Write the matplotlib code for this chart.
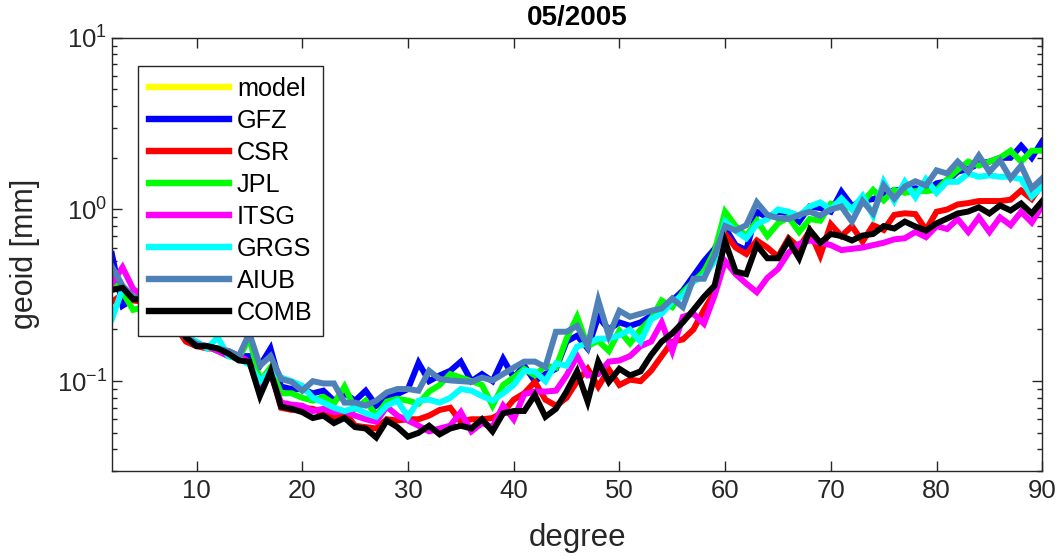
import numpy as np
import matplotlib
matplotlib.use("Agg")
from matplotlib import pyplot as plt
from matplotlib.ticker import LogLocator

plt.rcParams["font.family"] = ["Liberation Sans", "DejaVu Sans"]
plt.rcParams["mathtext.default"] = "regular"

degree = np.arange(2, 91)

gfz = [0.55, 0.275, 0.30, 0.29, 0.27, 0.24, 0.21, 0.172, 0.16, 0.16,
       0.15, 0.15, 0.14, 0.14, 0.123, 0.155, 0.093, 0.09, 0.09,
       0.085, 0.088, 0.077, 0.085, 0.077, 0.088, 0.072, 0.080, 0.084, 0.090,
       0.128, 0.10, 0.108, 0.115, 0.13, 0.10, 0.11, 0.10, 0.135, 0.105,
       0.123, 0.10, 0.11, 0.118, 0.17, 0.184, 0.155, 0.237, 0.20, 0.22,
       0.21, 0.22, 0.24, 0.254, 0.295, 0.337, 0.41, 0.50, 0.59, 0.78,
       0.62, 0.58, 0.97, 0.90, 0.97, 0.95, 0.85, 1.04, 1.02, 0.97,
       1.27, 1.05, 1.12, 1.15, 1.22, 1.30, 1.30, 1.33, 1.28, 1.42,
       1.46, 1.66, 1.72, 1.85, 1.9, 2.0, 2.0, 2.35, 2.0, 2.5]

csr = [0.29, 0.32, 0.295, 0.29, 0.26, 0.24, 0.21, 0.17, 0.16, 0.155,
       0.155, 0.145, 0.135, 0.13, 0.085, 0.115, 0.070, 0.068, 0.070,
       0.069, 0.065, 0.062, 0.066, 0.055, 0.054, 0.053, 0.060, 0.059, 0.060,
       0.060, 0.063, 0.068, 0.070, 0.058, 0.060, 0.060, 0.061, 0.066, 0.078,
       0.085, 0.099, 0.078, 0.072, 0.080, 0.10, 0.118, 0.093, 0.117, 0.095,
       0.102, 0.10, 0.115, 0.14, 0.17, 0.175, 0.20, 0.26, 0.33, 0.72,
       0.60, 0.55, 0.66, 0.60, 0.53, 0.68, 0.60, 0.75, 0.54, 0.82,
       0.70, 0.80, 0.65, 0.81, 0.76, 0.93, 0.95, 0.94, 0.76, 0.97,
       1.0, 1.07, 1.09, 1.12, 1.12, 1.12, 1.14, 1.29, 1.15, 1.41]

jpl = [0.38, 0.33, 0.26, 0.27, 0.26, 0.24, 0.22, 0.19, 0.165, 0.16,
       0.15, 0.14, 0.135, 0.18, 0.10, 0.12, 0.085, 0.085, 0.080,
       0.077, 0.081, 0.074, 0.093, 0.069, 0.077, 0.063, 0.076, 0.079, 0.077,
       0.074, 0.087, 0.095, 0.11, 0.105, 0.10, 0.095, 0.072, 0.095, 0.105,
       0.118, 0.108, 0.123, 0.12, 0.177, 0.237, 0.16, 0.172, 0.15, 0.197,
       0.166, 0.20, 0.23, 0.295, 0.27, 0.33, 0.38, 0.435, 0.57, 0.97,
       0.80, 0.70, 0.86, 0.70, 0.83, 0.90, 0.74, 0.88, 0.86, 1.08,
       1.05, 1.02, 1.1, 1.30, 1.13, 1.30, 1.25, 1.28, 1.28, 1.30,
       1.5, 1.7, 1.9, 1.8, 1.9, 2.0, 2.2, 1.9, 2.2, 2.2]

itsg = [0.37, 0.46, 0.345, 0.31, 0.28, 0.25, 0.22, 0.19, 0.165, 0.16,
        0.15, 0.14, 0.14, 0.13, 0.09, 0.11, 0.075, 0.073, 0.072,
        0.067, 0.069, 0.066, 0.067, 0.063, 0.060, 0.058, 0.071, 0.063, 0.059,
        0.055, 0.051, 0.053, 0.055, 0.066, 0.051, 0.057, 0.054, 0.072, 0.060,
        0.084, 0.087, 0.087, 0.088, 0.108, 0.14, 0.108, 0.11, 0.13, 0.132,
        0.14, 0.16, 0.17, 0.22, 0.15, 0.237, 0.247, 0.216, 0.315, 0.50,
        0.42, 0.37, 0.33, 0.40, 0.45, 0.56, 0.63, 0.66, 0.64, 0.62,
        0.58, 0.59, 0.60, 0.62, 0.64, 0.67, 0.68, 0.74, 0.69, 0.80,
        0.77, 0.88, 0.74, 0.90, 0.74, 0.90, 0.81, 0.97, 0.84, 1.05]

grgs = [0.23, 0.345, 0.31, 0.29, 0.27, 0.24, 0.21, 0.18, 0.17, 0.155,
        0.18, 0.14, 0.135, 0.125, 0.10, 0.115, 0.105, 0.10, 0.094,
        0.08, 0.075, 0.07, 0.067, 0.07, 0.065, 0.062, 0.072, 0.077, 0.062,
        0.077, 0.078, 0.075, 0.08, 0.09, 0.088, 0.082, 0.077, 0.085, 0.095,
        0.115, 0.114, 0.10, 0.127, 0.123, 0.159, 0.166, 0.177, 0.177, 0.185,
        0.20, 0.17, 0.23, 0.247, 0.29, 0.315, 0.38, 0.41, 0.50, 0.85,
        0.75, 0.68, 0.82, 0.88, 1.0, 0.97, 0.92, 1.04, 1.1, 1.0,
        1.16, 1.0, 1.2, 0.92, 1.45, 1.12, 1.45, 1.18, 1.5, 1.25,
        1.45, 1.45, 1.62, 1.55, 1.58, 1.55, 1.55, 1.5, 1.19, 1.36]

aiub = [0.465, 0.36, 0.31, 0.30, 0.27, 0.25, 0.22, 0.18, 0.165, 0.16,
        0.155, 0.15, 0.14, 0.19, 0.123, 0.14, 0.103, 0.099, 0.088,
        0.10, 0.097, 0.097, 0.075, 0.075, 0.072, 0.077, 0.086, 0.09, 0.09,
        0.088, 0.115, 0.103, 0.101, 0.100, 0.099, 0.105, 0.101, 0.11, 0.12,
        0.13, 0.13, 0.121, 0.194, 0.194, 0.21, 0.16, 0.295, 0.184, 0.257,
        0.237, 0.247, 0.257, 0.265, 0.303, 0.27, 0.395, 0.395, 0.54, 0.80,
        0.755, 0.81, 1.1, 0.93, 0.89, 0.88, 0.93, 0.97, 0.92, 1.0,
        1.04, 0.85, 1.12, 0.95, 1.38, 1.16, 1.36, 1.46, 1.38, 1.69,
        1.62, 1.90, 1.66, 2.06, 1.66, 1.93, 1.52, 1.80, 1.33, 1.52]

comb = [0.34, 0.35, 0.30, 0.30, 0.27, 0.25, 0.22, 0.18, 0.16, 0.16,
        0.155, 0.145, 0.132, 0.13, 0.082, 0.114, 0.071, 0.069, 0.066,
        0.061, 0.063, 0.057, 0.061, 0.054, 0.053, 0.047, 0.059, 0.054, 0.0475,
        0.050, 0.055, 0.049, 0.053, 0.055, 0.053, 0.060, 0.051, 0.065, 0.067,
        0.067, 0.083, 0.062, 0.069, 0.087, 0.114, 0.076, 0.13, 0.099, 0.118,
        0.108, 0.114, 0.142, 0.17, 0.19, 0.22, 0.26, 0.31, 0.36, 0.65,
        0.435, 0.42, 0.62, 0.52, 0.52, 0.66, 0.52, 0.76, 0.64, 0.72,
        0.70, 0.66, 0.705, 0.72, 0.80, 0.775, 0.85, 0.796, 0.754, 0.83,
        0.886, 0.948, 0.973, 1.03, 0.948, 1.055, 0.987, 1.084, 0.948, 1.12]

series = [
    ("model", [], "#ffff00"),
    ("GFZ", gfz, "#0000ff"),
    ("CSR", csr, "#ff0000"),
    ("JPL", jpl, "#00ff00"),
    ("ITSG", itsg, "#ff00ff"),
    ("GRGS", grgs, "#00ffff"),
    ("AIUB", aiub, "#4f81b9"),
    ("COMB", comb, "#000000"),
]

fig = plt.figure(figsize=(10.56, 5.56), dpi=100)
ax = fig.add_axes([0.106, 0.153, 0.881, 0.779])

for name, vals, col in series:
    x = degree[:len(vals)]
    ax.plot(x, vals, color=col, lw=4.3, label=name, solid_joinstyle="miter")

ax.set_yscale("log")
ax.set_xlim(2, 90)
ax.set_ylim(0.03, 10)
ax.set_xticks(range(10, 91, 10))
ax.yaxis.set_major_locator(LogLocator(base=10, numticks=10))
ax.yaxis.set_minor_locator(LogLocator(base=10, subs=np.arange(2, 10), numticks=20))

dark = "#262626"
for s in ax.spines.values():
    s.set_color(dark)
    s.set_linewidth(1.0)
ax.tick_params(which="both", direction="in", top=True, right=True,
               colors=dark, labelsize=18.5)
ax.tick_params(which="major", length=7, width=1.0)
ax.tick_params(which="minor", length=3.5, width=1.0)
ax.tick_params(axis="x", which="minor", top=False, bottom=False)
ax.tick_params(axis="x", pad=6)

ax.set_xlabel("degree", fontsize=22.5, color=dark, labelpad=14)
ax.set_ylabel("geoid [mm]", fontsize=22, color=dark, labelpad=12)
ax.set_title("05/2005", fontsize=20, fontweight="bold", pad=9)

leg = ax.legend(loc="upper left", bbox_to_anchor=(0.028, 0.935), borderaxespad=0,
                fontsize=18.2, handlelength=3.2, labelspacing=0.32,
                fancybox=False, framealpha=1, edgecolor=dark,
                borderpad=0.42, handletextpad=0.3)
leg.get_frame().set_linewidth(1.0)
for h in leg.get_lines():
    h.set_linewidth(4.6)

fig.savefig("out.png", dpi=100)
